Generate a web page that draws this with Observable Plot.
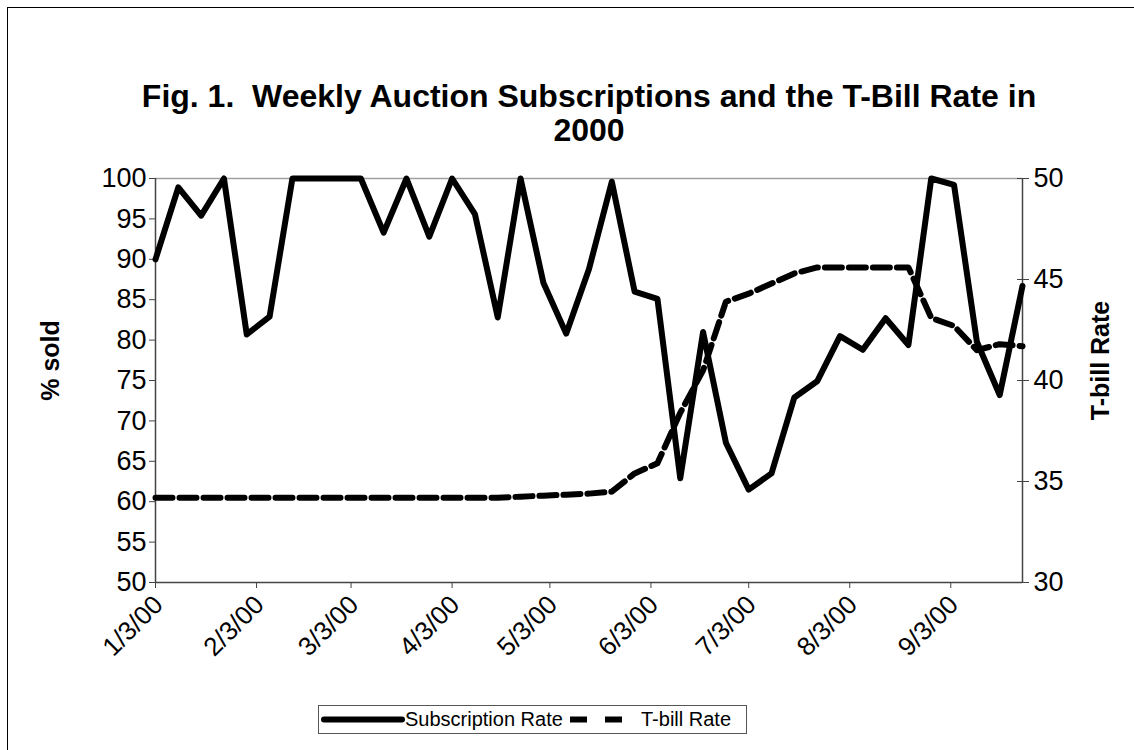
<!DOCTYPE html>
<html><head><meta charset="utf-8">
<script src="https://cdn.jsdelivr.net/npm/d3@7"></script>
<script src="https://cdn.jsdelivr.net/npm/@observablehq/plot@0.6"></script>
<style>
body{margin:0;background:#fff;}
#wrap{position:relative;width:1134px;height:750px;overflow:hidden;font-family:"Liberation Sans",Arial,sans-serif;color:#000;}
#border{position:absolute;left:7px;top:7px;width:1160px;height:780px;border:1.5px solid #000;}
#title{position:absolute;left:0;top:79px;width:1178px;text-align:center;font-weight:bold;font-size:32px;line-height:34px;}
#chart{position:absolute;left:0;top:0;}
#legend{position:absolute;left:318px;top:705px;width:427px;height:27px;border:1.5px solid #555;background:#fff;font-size:20px;line-height:27px;}
#legend .it{position:absolute;top:0;}
</style></head>
<body><div id="wrap">
<div id="border"></div>
<div id="chart"></div>
<div id="title">Fig. 1.&nbsp; Weekly Auction Subscriptions and the T-Bill Rate in<br>2000</div>
<div id="legend">
 <svg class="it" style="left:2px;top:0" width="84" height="27"><line x1="3" x2="81" y1="13.5" y2="13.5" stroke="#000" stroke-width="6" stroke-linecap="round"/></svg>
 <span class="it" style="left:86px">Subscription Rate</span>
 <svg class="it" style="left:251px;top:0" width="56" height="27"><line x1="0" x2="56" y1="13.5" y2="13.5" stroke="#000" stroke-width="6" stroke-dasharray="17,18"/></svg>
 <span class="it" style="left:322px">T-bill Rate</span>
</div>
</div>
<script>
const weeks = ["2000-01-03","2000-01-10","2000-01-17","2000-01-24","2000-01-31","2000-02-07","2000-02-14","2000-02-21","2000-02-28","2000-03-06","2000-03-13","2000-03-20","2000-03-27","2000-04-03","2000-04-10","2000-04-17","2000-04-24","2000-05-01","2000-05-08","2000-05-15","2000-05-22","2000-05-29","2000-06-05","2000-06-12","2000-06-19","2000-06-26","2000-07-03","2000-07-10","2000-07-17","2000-07-24","2000-07-31","2000-08-07","2000-08-14","2000-08-21","2000-08-28","2000-09-04","2000-09-11","2000-09-18","2000-09-25"];
const subscriptionRate = [90.0,98.9,95.4,100,80.7,82.9,100,100,100,100,93.3,100,92.8,100,95.6,82.8,100,87.1,80.8,88.8,99.6,86.0,85.1,62.9,81.0,67.3,61.5,63.5,72.9,74.9,80.5,78.8,82.7,79.4,100,99.2,79.8,73.2,86.7];
const tbillRate = [34.2,34.2,34.2,34.2,34.2,34.2,34.2,34.2,34.2,34.2,34.2,34.2,34.2,34.2,34.2,34.2,34.25,34.3,34.35,34.4,34.5,35.4,35.9,38.4,40.5,43.9,44.3,44.8,45.3,45.6,45.6,45.6,45.6,45.6,43.1,42.7,41.5,41.8,41.7];
const xTickDates = ["2000-01-03","2000-02-03","2000-03-03","2000-04-03","2000-05-03","2000-06-03","2000-07-03","2000-08-03","2000-09-03"];
const xTickLabels = ["1/3/00","2/3/00","3/3/00","4/3/00","5/3/00","6/3/00","7/3/00","8/3/00","9/3/00"];
const leftTicks = [50,55,60,65,70,75,80,85,90,95,100];
const rightTicks = [30,35,40,45,50];

const parse = d3.utcParse("%Y-%m-%d");
const toLeft = t => 50 + (t - 30) * 2.5;
const fromLeft = v => (v - 50) / 2.5 + 30;
const data = weeks.map((w, i) => ({date: parse(w), sub: subscriptionRate[i], tb: toLeft(tbillRate[i])}));
const x0 = parse(weeks[0]), x1 = parse(weeks[weeks.length - 1]);
const tickD = xTickDates.map(parse);
const labelOf = new Map(tickD.map((d, i) => [+d, xTickLabels[i]]));
const axisColor = "#444";

const chart = Plot.plot({
  width: 1134, height: 750,
  marginLeft: 155, marginRight: 112, marginTop: 178, marginBottom: 168,
  x: {type: "utc", domain: [x0, x1]},
  y: {domain: [50, 100]},
  style: {fontFamily: "'Liberation Sans', Arial, sans-serif", fontSize: "27px", color: "#000", background: "transparent", overflow: "visible"},
  marks: [
    Plot.ruleY([100], {stroke: "#a0a0a0", strokeWidth: 1.5}),
    Plot.ruleX([x0], {stroke: axisColor, strokeWidth: 1.5}),
    Plot.ruleX([x1], {stroke: axisColor, strokeWidth: 1.5}),
    Plot.ruleY([50], {stroke: axisColor, strokeWidth: 1.5}),
    Plot.axisY({anchor: "left", ticks: leftTicks, tickSize: 6, tickPadding: 3, label: null, stroke: axisColor, fontSize: 27}),
    Plot.axisY({anchor: "right", ticks: rightTicks.map(toLeft), tickFormat: v => String(Math.round(fromLeft(v))), tickSize: 12, dx: -6, tickPadding: 5, label: null, stroke: axisColor, fontSize: 27}),
    Plot.axisX({ticks: tickD, tickSize: 6, text: null, label: null, stroke: axisColor}),
    Plot.axisX({ticks: tickD, tickFormat: d => labelOf.get(+d), tickRotate: -45, tickSize: 0, tickPadding: 18, dx: 3, label: null, fontSize: 26}),
    Plot.line(data, {x: "date", y: "tb", stroke: "#000", strokeWidth: 6, strokeDasharray: "17,7"}),
    Plot.line(data, {x: "date", y: "sub", stroke: "#000", strokeWidth: 6, strokeLinejoin: "round"}),
    Plot.text(["% sold"], {text: d => d, frameAnchor: "left", textAnchor: "middle", dx: -105, dy: -20, rotate: -90, fontWeight: "bold", fontSize: 25}),
    Plot.text(["T-bill Rate"], {text: d => d, frameAnchor: "right", textAnchor: "middle", dx: 78, dy: -20, rotate: -90, fontWeight: "bold", fontSize: 25})
  ]
});
document.getElementById("chart").appendChild(chart);
</script>
</body></html>
